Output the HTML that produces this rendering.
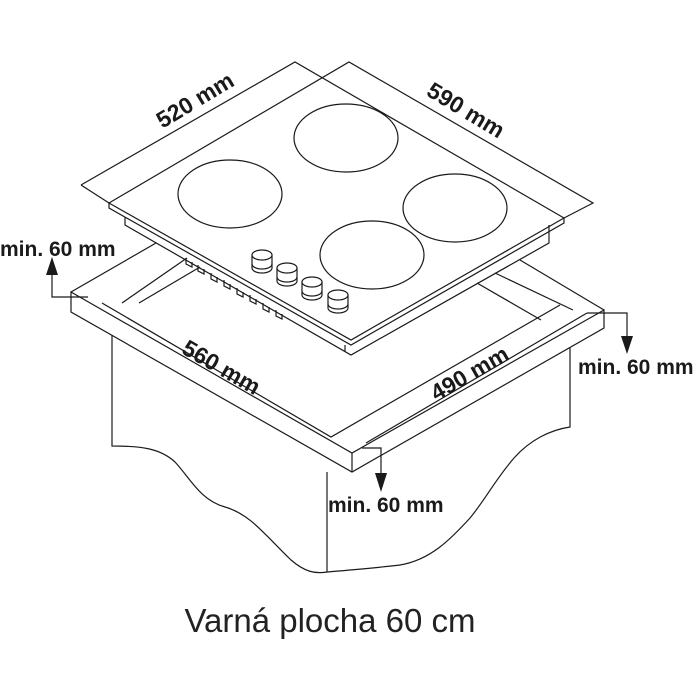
<!DOCTYPE html>
<html><head><meta charset="utf-8"><style>
html,body{margin:0;padding:0;background:#fff;}
svg{display:block;}
.l{fill:none;stroke:#1a1a1a;stroke-width:1.2;}
.t{font-family:"Liberation Sans",sans-serif;font-weight:bold;font-size:21px;fill:#1a1a1a;}
.d{font-family:"Liberation Sans",sans-serif;font-weight:bold;font-size:23px;fill:#1a1a1a;}
</style></head><body>
<svg width="700" height="700" viewBox="0 0 700 700" xmlns="http://www.w3.org/2000/svg">
<g class="l">
<path d="M112,335 L112,446 C140,446 160,448 175,462 C190,478 200,500 225,507 C250,514 265,535 291,560 C305,572 315,574 327,572 L327,472"/>
<path d="M570,348 L570,427 C550,430 530,440 514,458 C495,480 485,500 470,518 C450,540 430,560 400,565 C375,568 350,570 327,572"/>
<path d="M71,292 L352,453 L604,310 L604,328 L352,472 L71,312 Z"/>
<path d="M352,453 L352,472"/>
<path d="M71,292 L156,243"/>
<path d="M102,303 L331,437 L560,305"/>
<path d="M366,443 L587,313"/>
<path d="M122,303 L187,258"/>
<path d="M139,303 L200,267"/>
<path d="M520,260 L604,310"/>
<path d="M495,273 L573,310"/>
<path d="M477,283 L541,320"/>
<path d="M81,185 L295,62 L564,218"/>
<path d="M81,185 L109,203"/>
<path d="M109,203 L349,62 L593,203 L564,218"/>
<path d="M109,203 L351,340 L564,218 L564,223 L351,345 L109,208 Z" fill="#fff"/>
<path d="M125,217 L125,225 L351,355 L549,243 L549,225"/>
<path d="M345,345 L345,352"/>
<path d="M186,258 l0,6 l6,3 l0,-5 M198,265 l0,6 l6,3 l0,-5 M211,273 l0,6 l6,3 l0,-5 M224,280 l0,6 l6,3 l0,-5 M237,288 l0,6 l6,3 l0,-5 M250,295 l0,6 l6,3 l0,-5 M263,303 l0,6 l6,3 l0,-5 M276,310 l0,6 l6,3 l0,-5"/>
<ellipse cx="230" cy="194" rx="52" ry="34"/>
<ellipse cx="346" cy="138" rx="52" ry="34"/>
<ellipse cx="455" cy="208" rx="52" ry="34"/>
<ellipse cx="372" cy="255" rx="52" ry="34"/>
<g id="k">
<path d="M252,255 L252,268 A10,5 0 0 0 272,268 L272,255" fill="#fff"/>
<ellipse cx="262" cy="255" rx="10" ry="5" fill="#fff"/>
<path d="M252,264 A10,5 0 0 0 272,264"/>
</g>
<use href="#k" x="25" y="13"/>
<use href="#k" x="50" y="27"/>
<use href="#k" x="76" y="40"/>
<path d="M88,297 L52,297 L52,272"/>
<path d="M587,313 L627,313 L627,338"/>
<path d="M362,448 L381,448 L381,475"/>
</g>
<g fill="#1a1a1a">
<polygon points="46,275 58,275 52,257"/>
<polygon points="621,336 633,336 627,354"/>
<polygon points="375,473 387,473 381,492"/>
</g>
<text class="d" x="195" y="108" text-anchor="middle" transform="rotate(-31 195 100)">520 mm</text>
<text class="d" x="466" y="118" text-anchor="middle" transform="rotate(31 466 110)">590 mm</text>
<text class="d" x="221" y="375" text-anchor="middle" transform="rotate(30 221 368)">560 mm</text>
<text class="d" x="470" y="381" text-anchor="middle" transform="rotate(-30 470 374)">490 mm</text>
<text class="t" x="0" y="256">min. 60 mm</text>
<text class="t" x="578" y="374">min. 60 mm</text>
<text class="t" x="328" y="512">min. 60 mm</text>
<text x="330" y="632" text-anchor="middle" font-family="Liberation Sans, sans-serif" font-size="33" fill="#222">Varná plocha 60 cm</text>
</svg>
</body></html>
